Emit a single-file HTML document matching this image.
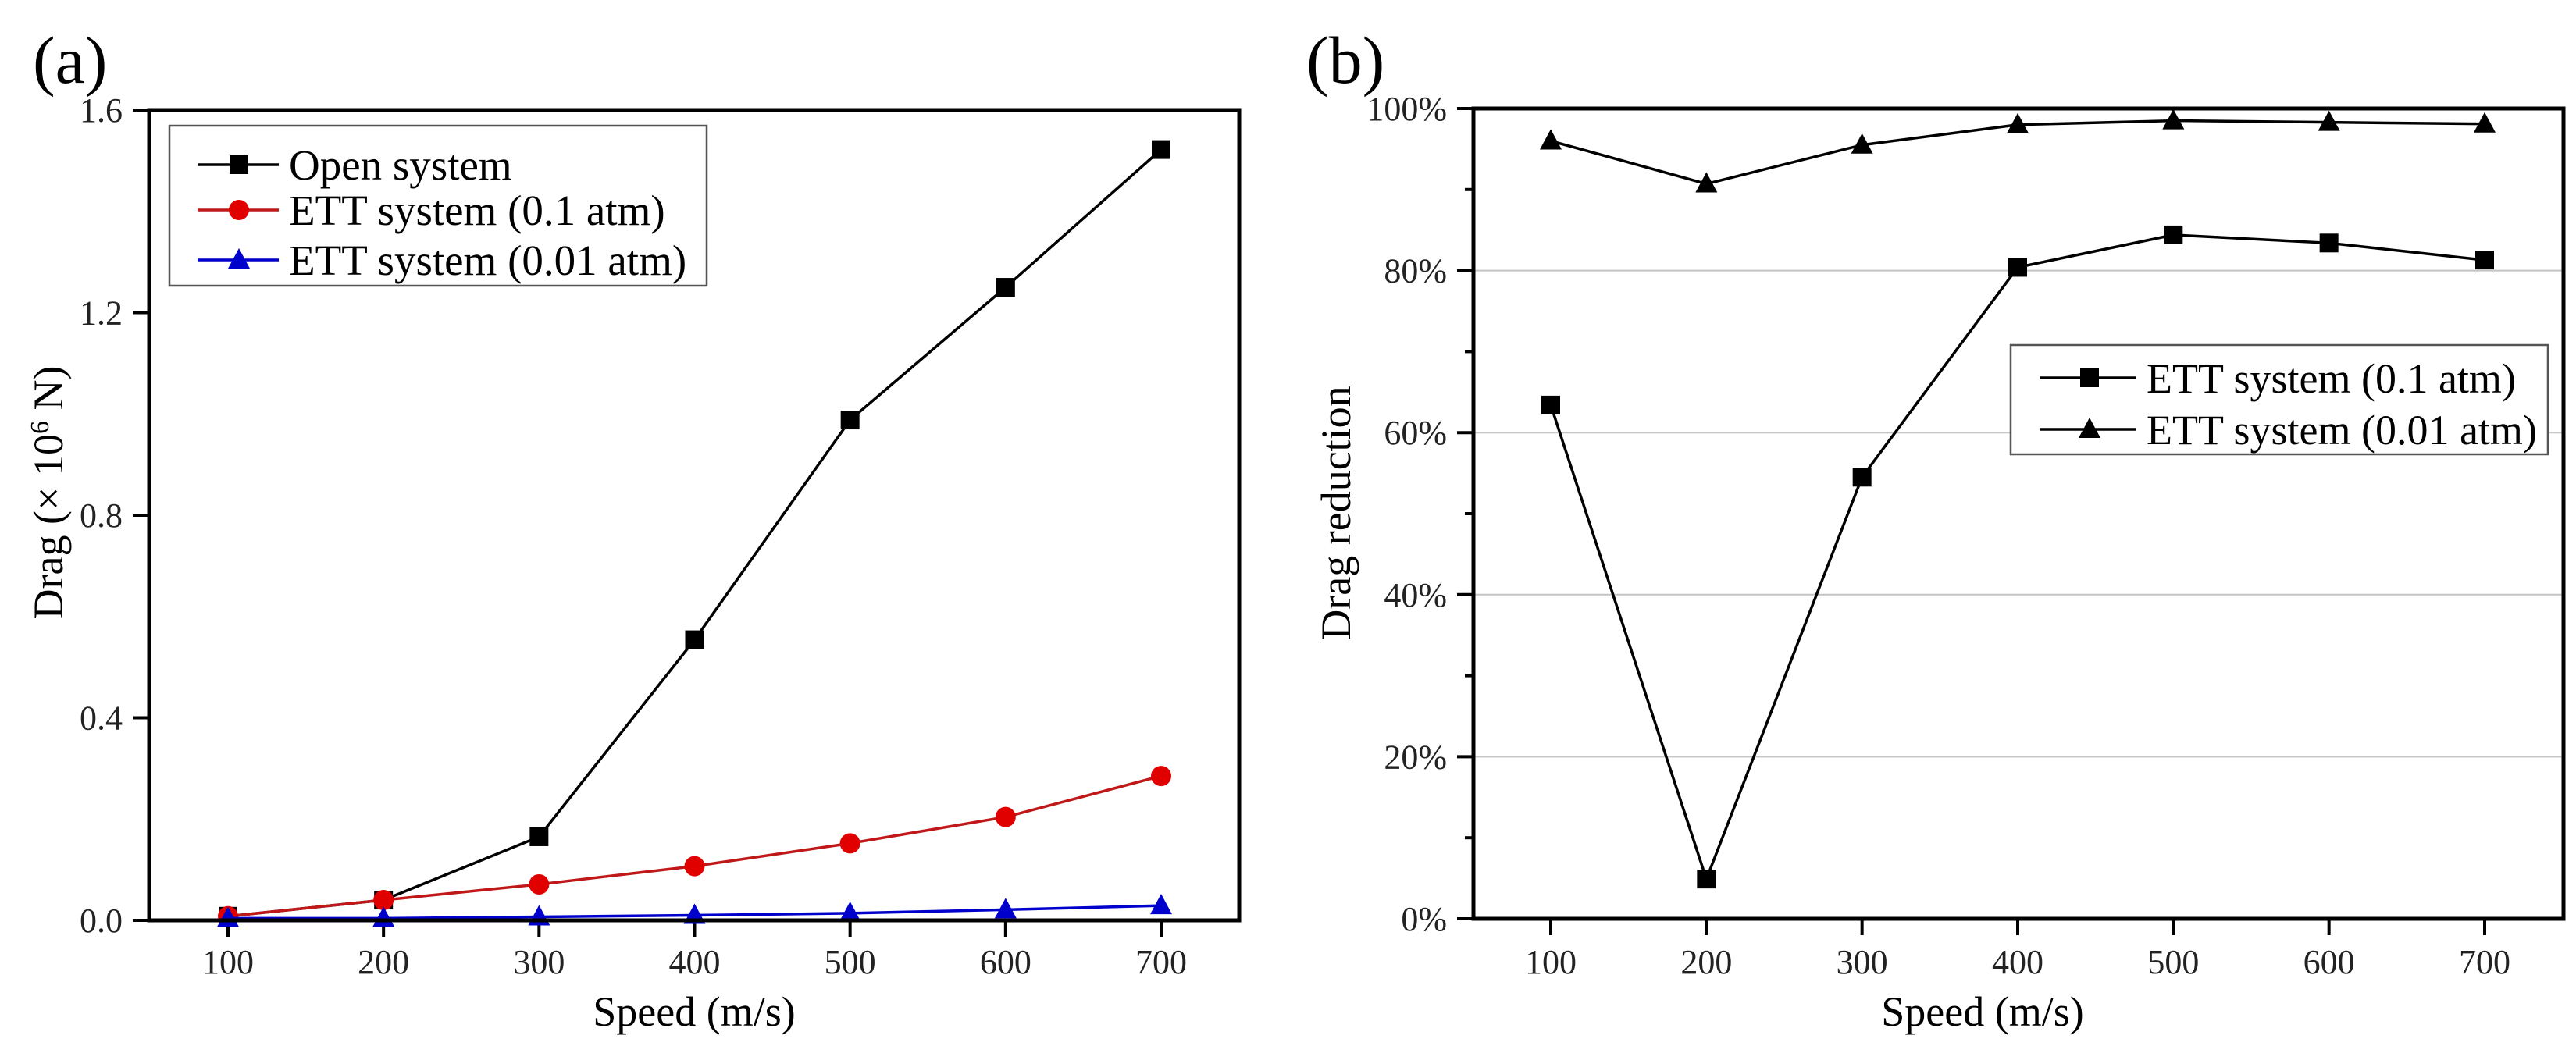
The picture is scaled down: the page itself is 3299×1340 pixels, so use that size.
<!DOCTYPE html>
<html><head><meta charset="utf-8"><style>
html,body{margin:0;padding:0;background:#fff;}
svg{display:block;font-family:"Liberation Serif",serif;}
</style></head><body>
<svg id="fig" width="3299" height="1340" viewBox="0 0 3299 1340" xmlns="http://www.w3.org/2000/svg"></svg>
<script>
const speeds = [100,200,300,400,500,600,700];
const openDrag = [0.008,0.04,0.165,0.554,0.988,1.25,1.522];
const ett01Drag = [0.008,0.04,0.071,0.107,0.152,0.204,0.285];
const ett001Drag = [0.004,0.004,0.007,0.010,0.014,0.021,0.029];
const aYTicks = [0,0.4,0.8,1.2,1.6];
const aYTickLabels = ["0.0","0.4","0.8","1.2","1.6"];
const red01 = [63.4,4.9,54.5,80.4,84.4,83.4,81.3];
const red001 = [96.0,90.7,95.5,98.0,98.5,98.3,98.1];
const bYTicks = [0,20,40,60,80,100];
const bYTickLabels = ["0%","20%","40%","60%","80%","100%"];

const NS="http://www.w3.org/2000/svg";
const svg=document.getElementById('fig');
function mk(tag,attrs,parent,text){const e=document.createElementNS(NS,tag);for(const k in attrs)e.setAttribute(k,attrs[k]);if(text!==undefined)e.textContent=text;(parent||svg).appendChild(e);return e;}

function marker(g,type,x,y,color){
  let m;
  if(type==='sq'){m=mk('rect',{x:x-12,y:y-12,width:24,height:24,fill:color},g);}
  else if(type==='ci'){m=mk('circle',{cx:x,cy:y,r:13,fill:color},g);}
  else {m=mk('polygon',{points:`${x},${y-15} ${x-14},${y+11} ${x+14},${y+11}`,fill:color},g);}
  return m;
}

// ---------- Panel A ----------
const A={l:191,r:1587,t:141,b:1179};
const ax=v=>292+(v-100)*(1487-292)/600;
const ay=v=>A.b-v*(A.b-A.t)/1.6;
const ga=mk('g',{});


let t=mk('text',{x:42,y:106,'font-size':86},ga,'(a)');


aYTicks.forEach((v,i)=>{
  mk('line',{x1:A.l-21,x2:A.l,y1:ay(v),y2:ay(v),stroke:'#000','stroke-width':4},ga);
  const tl=mk('text',{x:A.l-34,y:ay(v)+15,'font-size':44,'text-anchor':'end',fill:'#222'},ga,aYTickLabels[i]);
  
  
});
speeds.forEach(s=>{
  mk('line',{x1:ax(s),x2:ax(s),y1:A.b,y2:A.b+21,stroke:'#000','stroke-width':4},ga);
  const tl=mk('text',{x:ax(s),y:1247,'font-size':44,'text-anchor':'middle',fill:'#222'},ga,String(s));
  
  
});
const seriesA=[[openDrag,'#000','sq','open-system'],[ett01Drag,'#e00000','ci','ett-0.1-atm'],[ett001Drag,'#0000cc','tr','ett-0.01-atm']];
seriesA.forEach(([d,c,m,n])=>{
  const g=mk('g',{},ga);
  
  
  const line=mk('polyline',{points:d.map((v,i)=>ax(speeds[i])+','+ay(v)).join(' '),fill:'none',stroke:c==='#e00000'?'#c01818':c,'stroke-width':3.5},g);
  
  
  d.forEach((v,i)=>{const p=marker(g,m,ax(speeds[i]),ay(v),c);
    
    });
});
mk('rect',{x:A.l,y:A.t,width:A.r-A.l,height:A.b-A.t,fill:'none',stroke:'#000','stroke-width':5},ga);
const la=mk('g',{},ga);


mk('rect',{x:217,y:161,width:688,height:205,fill:'#fff',stroke:'#555','stroke-width':2.5},la);
const legA=[['Open system','#000','sq',211],['ETT system (0.1 atm)','#e00000','ci',269],['ETT system (0.01 atm)','#0000cc','tr',333]];
legA.forEach(([txt,c,m,y])=>{
  const e=mk('g',{},la);
  
  
  mk('line',{x1:253,x2:357,y1:y,y2:y,stroke:c==='#e00000'?'#c01818':c,'stroke-width':3.5},e);
  marker(e,m,306,y,c);
  mk('text',{x:370,y:y+19,'font-size':55},e,txt);
});
let yt=mk('text',{x:0,y:0,'font-size':54,'text-anchor':'middle',transform:'translate(80,631) rotate(-90)'},ga);


yt.innerHTML='Drag (× 10<tspan baseline-shift="super" font-size="34">6</tspan> N)';
let xt=mk('text',{x:889,y:1314,'font-size':54,'text-anchor':'middle'},ga,'Speed (m/s)');



// ---------- Panel B ----------
const B={l:1887,r:3283,t:139,b:1177};
const bx=v=>1986+(v-100)*(3182-1986)/600;
const by=v=>B.b-v*(B.b-B.t)/100;
const gb=mk('g',{});


t=mk('text',{x:1673,y:106,'font-size':86},gb,'(b)');


bYTicks.forEach((v,i)=>{
  if(v>0&&v<100){const gl=mk('line',{x1:B.l,x2:B.r,y1:by(v),y2:by(v),stroke:'#c4c4c4','stroke-width':2},gb);
    
    }
  mk('line',{x1:B.l-21,x2:B.l,y1:by(v),y2:by(v),stroke:'#000','stroke-width':4},gb);
  const tl=mk('text',{x:B.l-34,y:by(v)+15,'font-size':44,'text-anchor':'end',fill:'#222'},gb,bYTickLabels[i]);
  
  
});
for(let v=10;v<100;v+=20){mk('line',{x1:B.l-11,x2:B.l,y1:by(v),y2:by(v),stroke:'#000','stroke-width':4},gb);}
speeds.forEach(s=>{
  mk('line',{x1:bx(s),x2:bx(s),y1:B.b,y2:B.b+21,stroke:'#000','stroke-width':4},gb);
  const tl=mk('text',{x:bx(s),y:1247,'font-size':44,'text-anchor':'middle',fill:'#222'},gb,String(s));
  
  
});
[[red01,'sq','reduction-0.1-atm'],[red001,'tr','reduction-0.01-atm']].forEach(([d,m,n])=>{
  const g=mk('g',{},gb);
  
  
  const line=mk('polyline',{points:d.map((v,i)=>bx(speeds[i])+','+by(v)).join(' '),fill:'none',stroke:'#000','stroke-width':3.5},g);
  
  
  d.forEach((v,i)=>{const p=marker(g,m,bx(speeds[i]),by(v),'#000');
    
    });
});
mk('rect',{x:B.l,y:B.t,width:B.r-B.l,height:B.b-B.t,fill:'none',stroke:'#000','stroke-width':5},gb);
const lb=mk('g',{},gb);


mk('rect',{x:2575,y:442,width:688,height:140,fill:'#fff',stroke:'#555','stroke-width':2.5},lb);
[['ETT system (0.1 atm)','sq',484],['ETT system (0.01 atm)','tr',550]].forEach(([txt,m,y])=>{
  const e=mk('g',{},lb);
  
  
  mk('line',{x1:2612,x2:2736,y1:y,y2:y,stroke:'#000','stroke-width':3.5},e);
  marker(e,m,2676,y,'#000');
  mk('text',{x:2749,y:y+19,'font-size':54},e,txt);
});
yt=mk('text',{x:0,y:0,'font-size':54,'text-anchor':'middle',transform:'translate(1729,657) rotate(-90)'},gb,'Drag reduction');


xt=mk('text',{x:2539,y:1314,'font-size':54,'text-anchor':'middle'},gb,'Speed (m/s)');


</script>
</body></html>
